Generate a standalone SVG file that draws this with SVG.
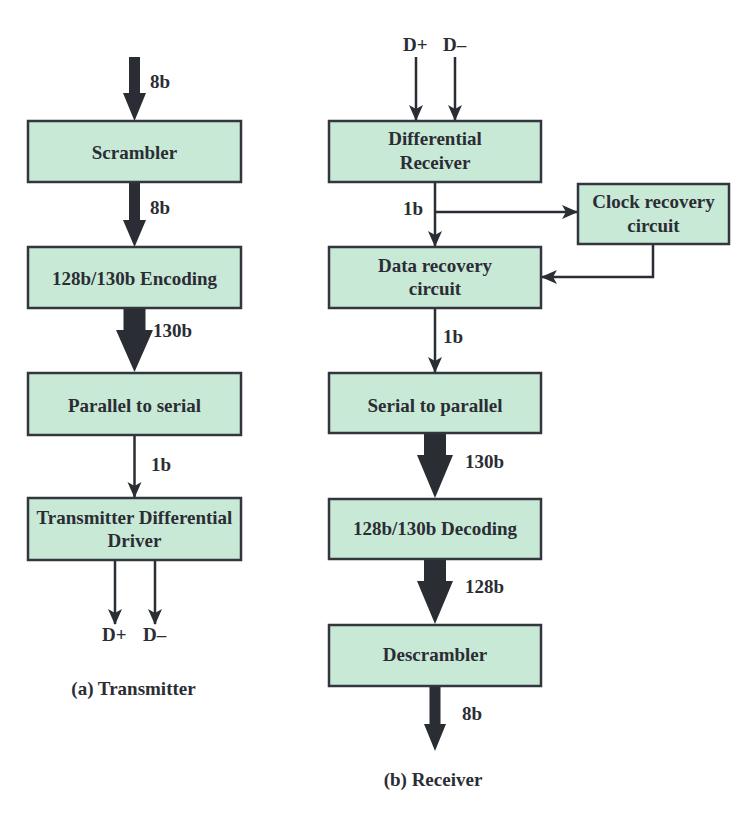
<svg xmlns="http://www.w3.org/2000/svg" width="742" height="814" viewBox="0 0 742 814">
<defs>
<style>
.box{fill:#c9e9d7;stroke:#33363d;stroke-width:2.5}
.t{font-family:"Liberation Serif","Times New Roman",serif;font-weight:bold;font-size:19px;fill:#2b2d35;text-anchor:middle}
.l{font-family:"Liberation Serif","Times New Roman",serif;font-weight:bold;font-size:19px;fill:#2b2d35}
.ln{fill:none;stroke:#2b2d34;stroke-width:2.5}
.th{fill:#2b2d34;stroke:none}
</style>
<marker id="ah" markerWidth="16" markerHeight="16" viewBox="0 0 16 16" refX="15" refY="8" orient="auto" markerUnits="userSpaceOnUse">
<path d="M0,1 L16,8 L0,15 L4,8 Z" fill="#2b2d34"/>
</marker>
</defs>
<rect width="742" height="814" fill="#ffffff"/>

<g id="connectors">
<!-- left thick arrows -->
<polygon class="th" points="129,57 140,57 140,93 146,93 134.5,121 123,93 129,93"/>
<polygon class="th" points="129,182 140,182 140,220 146,220 134.5,247 123,220 129,220"/>
<polygon class="th" points="123.5,308 145.5,308 145.5,330 153,330 134.5,372 116,330 123.5,330"/>
<line class="ln" x1="134.5" y1="435" x2="134.5" y2="497" marker-end="url(#ah)"/>
<line class="ln" x1="115" y1="560" x2="115" y2="624" marker-end="url(#ah)"/>
<line class="ln" x1="155" y1="560" x2="155" y2="624" marker-end="url(#ah)"/>
<!-- right -->
<line class="ln" x1="416" y1="57" x2="416" y2="120" marker-end="url(#ah)"/>
<line class="ln" x1="455" y1="57" x2="455" y2="120" marker-end="url(#ah)"/>
<line class="ln" x1="435" y1="182" x2="435" y2="246" marker-end="url(#ah)"/>
<line class="ln" x1="435" y1="212" x2="577" y2="212" marker-end="url(#ah)"/>
<polyline class="ln" points="653,244 653,277 542,277" marker-end="url(#ah)"/>
<line class="ln" x1="435" y1="308" x2="435" y2="372" marker-end="url(#ah)"/>
<polygon class="th" points="424,433 446,433 446,455 453,455 435,498 417,455 424,455"/>
<polygon class="th" points="424,559 446,559 446,581 453,581 435,624 417,581 424,581"/>
<polygon class="th" points="429.5,686 440.5,686 440.5,724 446,724 435,751 424,724 429.5,724"/>
</g>

<g id="scrambler"><rect class="box" x="28" y="121" width="213" height="61"/><text class="t" x="134.5" y="159">Scrambler</text></g>
<g id="encoding"><rect class="box" x="28" y="247" width="213" height="61"/><text class="t" x="134.5" y="285">128b/130b Encoding</text></g>
<g id="p2s"><rect class="box" x="28" y="373" width="213" height="62"/><text class="t" x="134.5" y="412">Parallel to serial</text></g>
<g id="txdriver"><rect class="box" x="28" y="498" width="213" height="62"/><text class="t" x="134.5" y="524">Transmitter Differential</text><text class="t" x="134.5" y="547">Driver</text></g>

<g id="diffrx"><rect class="box" x="329" y="121" width="212" height="61"/><text class="t" x="435" y="145">Differential</text><text class="t" x="435" y="169">Receiver</text></g>
<g id="clock"><rect class="box" x="578" y="184" width="151" height="60"/><text class="t" x="653.5" y="208">Clock recovery</text><text class="t" x="653.5" y="232">circuit</text></g>
<g id="datarec"><rect class="box" x="329" y="247" width="212" height="61"/><text class="t" x="435" y="272">Data recovery</text><text class="t" x="435" y="295">circuit</text></g>
<g id="s2p"><rect class="box" x="329" y="373" width="212" height="60"/><text class="t" x="435" y="412">Serial to parallel</text></g>
<g id="decoding"><rect class="box" x="329" y="499" width="212" height="60"/><text class="t" x="435" y="535">128b/130b Decoding</text></g>
<g id="descrambler"><rect class="box" x="329" y="625" width="212" height="61"/><text class="t" x="435" y="661">Descrambler</text></g>

<g id="labels">
<text class="l" x="150" y="88">8b</text>
<text class="l" x="150" y="214">8b</text>
<text class="l" x="153" y="337">130b</text>
<text class="l" x="151" y="471">1b</text>
<text class="l" x="102" y="641">D+</text>
<text class="l" x="143" y="641">D–</text>
<text class="t" x="133.5" y="695">(a) Transmitter</text>
<text class="l" x="403" y="51">D+</text>
<text class="l" x="443" y="51">D–</text>
<text class="l" x="403" y="215">1b</text>
<text class="l" x="443" y="343">1b</text>
<text class="l" x="465" y="468">130b</text>
<text class="l" x="465" y="593">128b</text>
<text class="l" x="462" y="720">8b</text>
<text class="t" x="433" y="786">(b) Receiver</text>
</g>
</svg>
